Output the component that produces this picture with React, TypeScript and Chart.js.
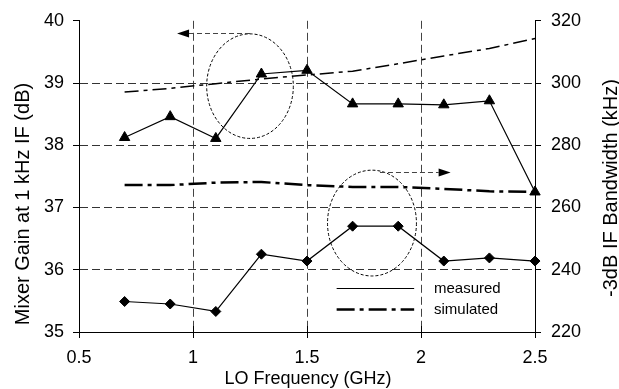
import React, { useEffect, useRef } from 'react';
import { Chart, registerables } from 'chart.js';

Chart.register(...registerables);

// ---- data ----
const loFreq = [0.7, 0.9, 1.1, 1.3, 1.5, 1.7, 1.9, 2.1, 2.3, 2.5];
const gainMeasured = [35.49, 35.45, 35.33, 36.25, 36.14, 36.7, 36.7, 36.14, 36.19, 36.14];
const gainSimulated = [37.36, 37.36, 37.4, 37.41, 37.36, 37.33, 37.33, 37.3, 37.26, 37.25];
const bwMeasured = [282.5, 289.2, 282.2, 302.9, 304.1, 293.3, 293.3, 293.0, 294.3, 265.0];
const bwSimulated = [297.1, 298.3, 299.8, 301.3, 302.6, 303.8, 306.2, 308.7, 311.1, 314.3];

const xTicks = [0.5, 1, 1.5, 2, 2.5];
const gainTicks = [35, 36, 37, 38, 39, 40];
const bwTicks = [220, 240, 260, 280, 300, 320];

const xTitle = 'LO Frequency (GHz)';
const gainTitle = 'Mixer Gain at 1 kHz IF (dB)';
const bwTitle = '-3dB IF Bandwidth (kHz)';
const legendLabels = ['measured', 'simulated'];

// annotation shapes in data units (x in GHz, y in dB)
const ellipseNotes = [
  { cx: 1.25, cy: 38.95, rx: 0.19, ry: 0.84 },
  { cx: 1.785, cy: 36.75, rx: 0.195, ry: 0.85 },
];
const arrowNotes = [
  { y: 39.8, from: 1.25, to: 0.93 },
  { y: 37.57, from: 1.82, to: 2.13 },
];
const legendPos = { x0: 1.63, x1: 1.97, xText: 2.057, y: [35.71, 35.37] };

const FONT = '"Liberation Sans", Arial, Helvetica, sans-serif';
const DASHDOT_SIM = [18, 5, 4, 5];

const pts = (ys: number[]) => loFreq.map((x, i) => ({ x, y: ys[i] }));

export default function App() {
  const ref = useRef<HTMLCanvasElement>(null);

  useEffect(() => {
    const canvas = ref.current;
    if (!canvas) return;

    const overlay = {
      id: 'overlay',
      afterDraw(chart: any) {
        const { ctx, scales, chartArea } = chart;
        const sx = scales.x;
        const sy = scales.y;
        ctx.save();

        // inner x tick marks
        ctx.strokeStyle = '#000';
        ctx.lineWidth = 1;
        ctx.setLineDash([]);
        xTicks.forEach((v) => {
          const px = Math.round(sx.getPixelForValue(v)) + 0.5;
          ctx.beginPath();
          ctx.moveTo(px, chartArea.bottom);
          ctx.lineTo(px, chartArea.bottom - 6);
          ctx.stroke();
        });

        // ellipses
        ctx.lineWidth = 1;
        ctx.setLineDash([3, 2]);
        ctx.strokeStyle = '#000';
        ellipseNotes.forEach((e) => {
          const cx = sx.getPixelForValue(e.cx);
          const cy = sy.getPixelForValue(e.cy);
          const rx = Math.abs(sx.getPixelForValue(e.cx + e.rx) - cx);
          const ry = Math.abs(sy.getPixelForValue(e.cy + e.ry) - cy);
          ctx.beginPath();
          ctx.ellipse(cx, cy, rx, ry, 0, 0, Math.PI * 2);
          ctx.stroke();
        });

        // arrows
        arrowNotes.forEach((a) => {
          const y = Math.round(sy.getPixelForValue(a.y)) + 0.5;
          const x0 = sx.getPixelForValue(a.from);
          const x1 = sx.getPixelForValue(a.to);
          const dir = Math.sign(x1 - x0);
          const headLen = 12;
          ctx.setLineDash([5, 3]);
          ctx.strokeStyle = '#444';
          ctx.lineWidth = 1.2;
          ctx.beginPath();
          ctx.moveTo(x0, y);
          ctx.lineTo(x1 - dir * headLen, y);
          ctx.stroke();
          ctx.setLineDash([]);
          ctx.fillStyle = '#000';
          ctx.beginPath();
          ctx.moveTo(x1, y);
          ctx.lineTo(x1 - dir * headLen, y - 4);
          ctx.lineTo(x1 - dir * headLen, y + 4);
          ctx.closePath();
          ctx.fill();
        });

        // legend
        const lx0 = sx.getPixelForValue(legendPos.x0);
        const lx1 = sx.getPixelForValue(legendPos.x1);
        const lxt = sx.getPixelForValue(legendPos.xText);
        legendLabels.forEach((lab, i) => {
          const y = Math.round(sy.getPixelForValue(legendPos.y[i])) + 0.5;
          ctx.strokeStyle = '#000';
          ctx.lineWidth = i === 0 ? 1.2 : 2.5;
          ctx.setLineDash(i === 0 ? [] : DASHDOT_SIM);
          ctx.beginPath();
          ctx.moveTo(lx0, y);
          ctx.lineTo(lx1, y);
          ctx.stroke();
          ctx.setLineDash([]);
          ctx.fillStyle = '#000';
          ctx.font = `15px ${FONT}`;
          ctx.textAlign = 'left';
          ctx.textBaseline = 'middle';
          ctx.fillText(lab, lxt, y);
        });

        // axis titles
        ctx.fillStyle = '#000';
        ctx.font = `18px ${FONT}`;
        ctx.textAlign = 'center';
        ctx.textBaseline = 'alphabetic';
        ctx.fillText(xTitle, (chartArea.left + chartArea.right) / 2 + 1, 384);

        ctx.font = `20px ${FONT}`;
        ctx.save();
        ctx.translate(29, 204);
        ctx.rotate(-Math.PI / 2);
        ctx.fillText(gainTitle, 0, 0);
        ctx.restore();

        ctx.save();
        ctx.translate(617, 188);
        ctx.rotate(-Math.PI / 2);
        ctx.fillText(bwTitle, 0, 0);
        ctx.restore();

        ctx.restore();
      },
    };

    const chart = new Chart(canvas, {
      type: 'line',
      data: {
        datasets: [
          {
            label: 'gain measured',
            data: pts(gainMeasured),
            yAxisID: 'y',
            borderColor: '#000',
            backgroundColor: '#000',
            borderWidth: 1.2,
            pointStyle: 'rectRot',
            pointRadius: 5,
            pointBackgroundColor: '#000',
            pointBorderColor: '#000',
            pointBorderWidth: 1,
            tension: 0,
            clip: false,
          },
          {
            label: 'bandwidth measured',
            data: pts(bwMeasured),
            yAxisID: 'y1',
            borderColor: '#000',
            backgroundColor: '#000',
            borderWidth: 1.2,
            pointStyle: 'triangle',
            pointRadius: 6,
            pointBackgroundColor: '#000',
            pointBorderColor: '#000',
            pointBorderWidth: 1,
            tension: 0,
            clip: false,
          },
          {
            label: 'gain simulated',
            data: pts(gainSimulated),
            yAxisID: 'y',
            borderColor: '#000',
            borderWidth: 2.5,
            borderDash: DASHDOT_SIM,
            pointRadius: 0,
            tension: 0,
            clip: false,
          },
          {
            label: 'bandwidth simulated',
            data: pts(bwSimulated),
            yAxisID: 'y1',
            borderColor: '#000',
            borderWidth: 1.5,
            borderDash: [14, 5, 4, 5],
            pointRadius: 0,
            tension: 0,
            clip: false,
          },
        ],
      },
      options: {
        responsive: false,
        devicePixelRatio: 1,
        animation: false,
        layout: { padding: { top: 16, left: 0, right: 0, bottom: 0 } },
        plugins: { legend: { display: false }, tooltip: { enabled: false } },
        scales: {
          x: {
            type: 'linear',
            min: 0.5,
            max: 2.5,
            afterBuildTicks: (s: any) => {
              s.ticks = xTicks.map((v) => ({ value: v }));
            },
            afterFit: (s: any) => {
              s.height = 57;
            },
            ticks: {
              color: '#000',
              font: { size: 18, family: FONT },
              padding: 9,
              maxRotation: 0,
              callback: (v: any) => String(v),
            },
            grid: {
              color: '#444',
              lineWidth: 1,
              tickLength: 6,
              tickColor: '#000',
            },
            border: { display: true, color: '#000', width: 1, dash: [8, 4] },
          },
          y: {
            type: 'linear',
            position: 'left',
            min: 35,
            max: 40,
            afterBuildTicks: (s: any) => {
              s.ticks = gainTicks.map((v) => ({ value: v }));
            },
            afterFit: (s: any) => {
              s.width = 79;
            },
            ticks: {
              color: '#000',
              font: { size: 18, family: FONT },
              padding: 9,
              callback: (v: any) => String(v),
            },
            grid: {
              color: (c: any) => (c.tick && c.tick.value === 40 ? 'rgba(0,0,0,0)' : '#333'),
              lineWidth: 1,
              tickLength: 6,
              tickColor: '#000',
            },
            border: { display: true, color: '#000', width: 1, dash: [8, 4] },
          },
          y1: {
            type: 'linear',
            position: 'right',
            min: 220,
            max: 320,
            afterBuildTicks: (s: any) => {
              s.ticks = bwTicks.map((v) => ({ value: v }));
            },
            afterFit: (s: any) => {
              s.width = 84;
            },
            ticks: {
              color: '#000',
              font: { size: 18, family: FONT },
              padding: 10,
              callback: (v: any) => String(v),
            },
            grid: {
              drawOnChartArea: false,
              color: '#000',
              tickLength: 6,
              tickColor: '#000',
            },
            border: { display: true, color: '#000', width: 1 },
          },
        },
      },
      plugins: [overlay],
    } as any);

    return () => chart.destroy();
  }, []);

  return (
    <div
      style={{
        position: 'fixed',
        left: 0,
        top: 0,
        width: 619,
        height: 389,
        background: '#fff',
        overflow: 'hidden',
      }}
    >
      <canvas ref={ref} width={619} height={389} style={{ display: 'block', width: 619, height: 389 }} />
    </div>
  );
}
